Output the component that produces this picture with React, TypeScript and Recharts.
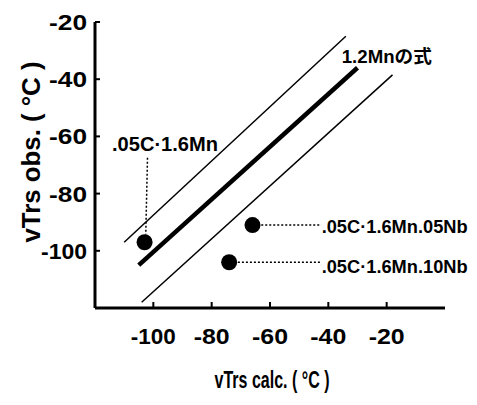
import { ScatterChart, Scatter, XAxis, YAxis, Label } from 'recharts';

const FONT = "'Liberation Sans Narrow', 'Liberation Sans', 'Noto Sans CJK JP', sans-serif";

// axis ticks
const xTicks = [-100, -80, -60, -40, -20];
const yTicks = [-20, -40, -60, -80, -100];

// measured steels
const steelNames = ['.05C·1.6Mn', '.05C·1.6Mn.05Nb', '.05C·1.6Mn.10Nb'];
const vTrsCalc = [-103, -66, -74];
const vTrsObs = [-97, -91, -104];

// 1.2Mn formula and its scatter band
const formulaLine = [{ x: -105, y: -105 }, { x: -30, y: -36 }];
const upperBand = [{ x: -110, y: -97 }, { x: -34, y: -25 }];
const lowerBand = [{ x: -104, y: -118 }, { x: -18, y: -38.5 }];
const formulaName = '1.2Mnの式';

// where the names sit and the dotted leaders to the points
const nameX = [-96, -42.3, -42.3];
const nameY = [-65.1, -93.8, -107.8];
const leaderLines = [
  [{ x: -102, y: -67.5 }, { x: -102.6, y: -94.3 }],
  [{ x: -63, y: -91 }, { x: -42.5, y: -91 }],
  [{ x: -71, y: -104 }, { x: -42.5, y: -104 }],
];
const formulaNameAt = { x: -35.4, y: -34.3 };

const points = steelNames.map((name, i) => ({ name, x: vTrsCalc[i], y: vTrsObs[i] }));
const names = [
  ...steelNames.map((name, i) => ({
    text: name,
    x: nameX[i],
    y: nameY[i],
    anchor: i === 0 ? 'middle' : 'start',
    w: i === 0 ? 106 : 146,
    size: i === 0 ? 21 : 19,
  })),
  { text: formulaName, x: formulaNameAt.x, y: formulaNameAt.y, anchor: 'start', w: 90, size: 18 },
];

function Txt({ x, y, w, size, anchor = 'start', children }: any) {
  return (
    <text
      x={x}
      y={y}
      fontSize={size}
      fontWeight={600}
      textAnchor={anchor}
      textLength={w}
      lengthAdjust="spacingAndGlyphs"
      fill="#000"
      fontFamily={FONT}
    >
      {children}
    </text>
  );
}

const NoDot = () => <g />;

const Dot = (p: any) => <circle cx={p.cx} cy={p.cy} r={8} fill="#000" />;

const NameText = (p: any) => {
  const d = p.payload ?? p;
  return (
    <Txt x={p.cx} y={p.cy} w={d.w} size={d.size} anchor={d.anchor}>
      {d.text}
    </Txt>
  );
};

// label sits 20px below the axis; tick mark points up into the plot
const XTick = ({ x, y, payload }: any) => (
  <g>
    <line x1={x} x2={x} y1={y - 20} y2={y - 26} stroke="#000" strokeWidth={2} />
    <Txt x={x} y={y + 16} w={String(payload.value).length > 3 ? 45 : 36} size={22} anchor="middle">
      {payload.value}
    </Txt>
  </g>
);

// label sits 8px left of the axis; tick mark points right into the plot
const YTick = ({ x, y, payload }: any) => (
  <g>
    <line x1={x + 8} x2={x + 13} y1={y} y2={y} stroke="#000" strokeWidth={2} />
    <Txt x={x} y={y + 8} w={String(payload.value).length > 3 ? 46 : 38} size={22} anchor="end">
      {payload.value}
    </Txt>
  </g>
);

export default function App() {
  return (
    <div style={{ position: 'absolute', left: 0, top: 0, background: '#fff' }}>
      <ScatterChart width={477} height={405} margin={{ top: 22, right: 32, bottom: 47, left: 35 }}>
        <XAxis
          type="number"
          dataKey="x"
          domain={[-120, 0]}
          ticks={xTicks}
          height={50}
          stroke="#000"
          strokeWidth={3}
          tickLine={false}
          tickSize={0}
          tickMargin={20}
          tick={<XTick />}
        >
          <Label
            content={({ viewBox }: any) => (
              <Txt x={viewBox.x + viewBox.width / 2 + 2} y={viewBox.y + 80} w={115} size={24} anchor="middle">
                vTrs calc. ( °C )
              </Txt>
            )}
          />
        </XAxis>
        <YAxis
          type="number"
          dataKey="y"
          domain={[-120, -20]}
          ticks={yTicks}
          width={60}
          stroke="#000"
          strokeWidth={3}
          tickLine={false}
          tickSize={0}
          tickMargin={8}
          tick={<YTick />}
        >
          <Label
            content={() => (
              <g transform="translate(40 152) rotate(-90)">
                <Txt x={0} y={0} w={181} size={26} anchor="middle">
                  vTrs obs. ( °C )
                </Txt>
              </g>
            )}
          />
        </YAxis>
        <Scatter data={upperBand} fill="#000" line={{ stroke: '#000', strokeWidth: 1.5 }} shape={NoDot} isAnimationActive={false} />
        <Scatter data={formulaLine} fill="#000" line={{ stroke: '#000', strokeWidth: 4.5 }} shape={NoDot} isAnimationActive={false} />
        <Scatter data={lowerBand} fill="#000" line={{ stroke: '#000', strokeWidth: 1.5 }} shape={NoDot} isAnimationActive={false} />
        {leaderLines.map((seg, i) => (
          <Scatter
            key={i}
            data={seg}
            fill="#000"
            line={{ stroke: '#000', strokeWidth: 1.5, strokeDasharray: '2 2' }}
            shape={NoDot}
            isAnimationActive={false}
          />
        ))}
        <Scatter data={points} fill="#000" shape={Dot} isAnimationActive={false} />
        <Scatter data={names} fill="#000" shape={NameText} isAnimationActive={false} />
      </ScatterChart>
    </div>
  );
}
